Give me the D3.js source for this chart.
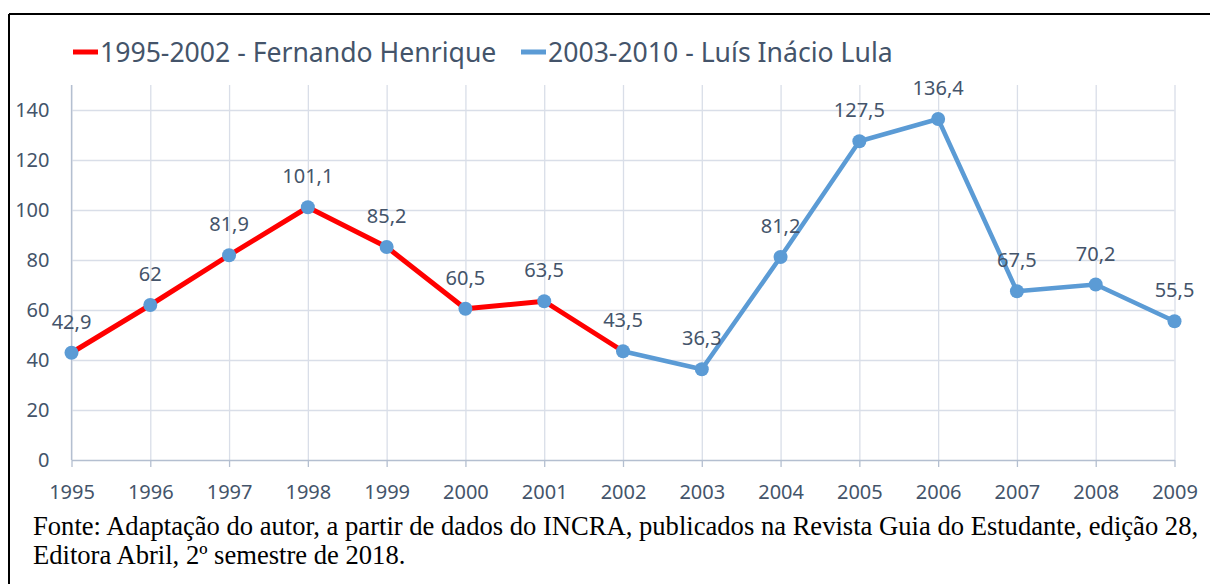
<!DOCTYPE html>
<html>
<head>
<meta charset="utf-8">
<script src="https://cdn.jsdelivr.net/npm/d3@7"></script>
<style>
  body { margin: 0; background: #fff; }
  svg { display: block; }
  .tick text { fill: #44546a; font-family: "Noto Sans", sans-serif; font-size: 20px; }
  .lbl { fill: #44546a; font-family: "Noto Sans", sans-serif; font-size: 20px; }
  .legend { fill: #44546a; font-family: "Noto Sans", sans-serif; font-size: 26.6px; }
  .source { fill: #000; font-family: "Liberation Serif", serif; font-size: 26.6px; }
</style>
</head>
<body>
<svg id="main" width="1210" height="584"></svg>
<script>
const years = [1995, 1996, 1997, 1998, 1999, 2000, 2001, 2002, 2003, 2004, 2005, 2006, 2007, 2008, 2009];
const valuesFHC = [42.9, 62, 81.9, 101.1, 85.2, 60.5, 63.5, 43.5];   // 1995-2002
const valuesLula = [43.5, 36.3, 81.2, 127.5, 136.4, 67.5, 70.2, 55.5]; // 2002-2009
const yTicks = [0, 20, 40, 60, 80, 100, 120, 140];
const seriesNames = ['1995-2002 - Fernando Henrique', '2003-2010 - Luís Inácio Lula'];

const red = '#ff0000';
const blue = '#5b9bd5';

const fhc = valuesFHC.map((v, i) => ({ year: years[i], value: v }));
const lula = valuesLula.map((v, i) => ({ year: years[i + 7], value: v }));
// one label per point (2002 only once)
const points = fhc.concat(lula.slice(1));

const svg = d3.select('svg#main');

// frame (left and top only, like the cropped original)
svg.append('line').attr('x1', 9).attr('y1', 14).attr('x2', 9).attr('y2', 584)
  .attr('stroke', '#000').attr('stroke-width', 2);
svg.append('line').attr('x1', 9).attr('y1', 14).attr('x2', 1210).attr('y2', 14)
  .attr('stroke', '#000').attr('stroke-width', 2);

const plotLeft = 71.5, plotRight = 1174.5, plotTop = 85, plotBottom = 460;

const xScale = d3.scalePoint()
  .domain(years)
  .range([plotLeft, plotRight]);

const yScale = d3.scaleLinear()
  .domain([0, 150])
  .range([plotBottom, plotTop]);

// horizontal grid
svg.append('g')
  .attr('transform', `translate(${plotLeft}, 0)`)
  .call(d3.axisLeft(yScale).tickValues(yTicks.slice(1)).tickSize(-(plotRight - plotLeft)).tickFormat(''))
  .call(g => g.select('.domain').remove())
  .call(g => g.selectAll('line').attr('stroke', '#d9dee8').attr('stroke-width', 1.3));

// vertical grid
svg.append('g')
  .attr('transform', `translate(0, ${plotBottom})`)
  .call(d3.axisBottom(xScale).tickSize(-(plotBottom - plotTop)).tickFormat(''))
  .call(g => g.select('.domain').remove())
  .call(g => g.selectAll('line').attr('stroke', '#d9dee8').attr('stroke-width', 1.3));

// x axis
svg.append('g')
  .attr('transform', `translate(0, ${plotBottom})`)
  .call(d3.axisBottom(xScale).tickSize(7).tickPadding(18).tickSizeOuter(0))
  .call(g => g.select('.domain').attr('stroke', '#b4bfd0').attr('stroke-width', 1.3))
  .call(g => g.selectAll('line').attr('stroke', '#b4bfd0').attr('stroke-width', 1.3));

// y axis
svg.append('g')
  .attr('transform', `translate(${plotLeft}, 0)`)
  .call(d3.axisLeft(yScale).tickValues(yTicks).tickSize(0).tickPadding(22))
  .call(g => g.select('.domain').remove());
svg.append('line')
  .attr('x1', plotLeft).attr('x2', plotLeft).attr('y1', plotTop).attr('y2', plotBottom)
  .attr('stroke', '#b4bfd0').attr('stroke-width', 1.3);

const line = d3.line()
  .x(d => xScale(d.year))
  .y(d => yScale(d.value));

svg.append('path').datum(lula)
  .attr('d', line).attr('fill', 'none')
  .attr('stroke', blue).attr('stroke-width', 4.5).attr('stroke-linejoin', 'round');

svg.append('path').datum(fhc)
  .attr('d', line).attr('fill', 'none')
  .attr('stroke', red).attr('stroke-width', 5).attr('stroke-linejoin', 'round');

svg.selectAll('circle.pt')
  .data(points)
  .enter()
  .append('circle')
  .attr('class', 'pt')
  .attr('cx', d => xScale(d.year))
  .attr('cy', d => yScale(d.value))
  .attr('r', 7)
  .attr('fill', blue);

svg.selectAll('text.lbl')
  .data(points)
  .enter()
  .append('text')
  .attr('class', 'lbl')
  .attr('x', d => xScale(d.year))
  .attr('y', d => yScale(d.value) - 24)
  .attr('text-anchor', 'middle')
  .text(d => String(d.value).replace('.', ','));

// legend
const legendX = [73, 521];
const legendCol = [red, blue];
seriesNames.forEach((name, i) => {
  svg.append('line')
    .attr('x1', legendX[i]).attr('x2', legendX[i] + 25)
    .attr('y1', 52).attr('y2', 52)
    .attr('stroke', legendCol[i]).attr('stroke-width', 5);
  svg.append('text')
    .attr('class', 'legend')
    .attr('x', legendX[i] + 27)
    .attr('y', 62)
    .text(name);
});

// source note
svg.append('text')
  .attr('class', 'source')
  .attr('x', 33).attr('y', 535)
  .text('Fonte: Adaptação do autor, a partir de dados do INCRA, publicados na Revista Guia do Estudante, edição 28,');
svg.append('text')
  .attr('class', 'source')
  .attr('x', 33).attr('y', 564)
  .text('Editora Abril, 2º semestre de 2018.');
</script>
</body>
</html>
